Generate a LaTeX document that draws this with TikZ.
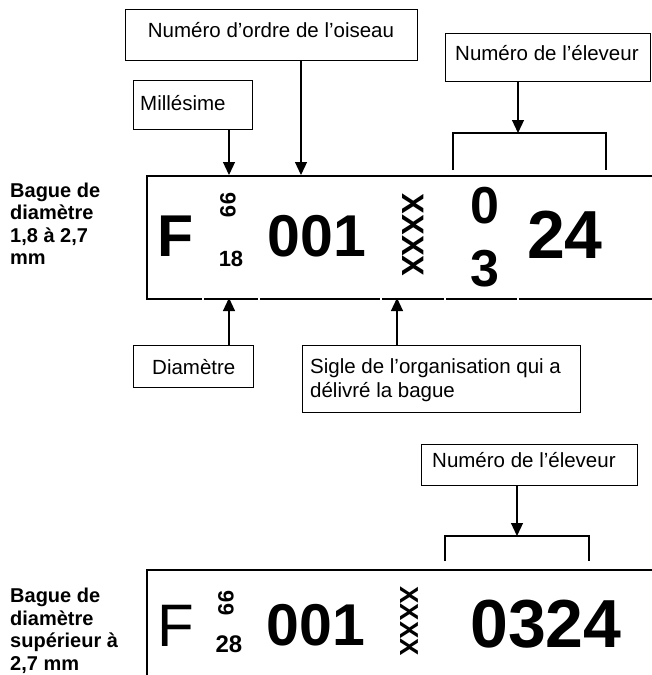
\documentclass[tikz,border=0pt]{standalone}
\usepackage{fontspec}
\setmainfont{Liberation Sans}
\usetikzlibrary{arrows.meta,calc}
\tikzset{
  lbox/.style={draw, line width=1.2pt, inner sep=0pt, anchor=north west},
  lbl/.style={inner sep=0pt, font=\fontsize{20.5}{24}\selectfont},
  side/.style={inner sep=0pt, align=left, anchor=north west, font=\fontsize{20}{22.5}\selectfont\bfseries},
  ringbox/.style={draw, line width=2pt, inner sep=0pt, anchor=north west},
  arr/.style={line width=1.2pt, -{Triangle[width=12pt,length=13pt]}},
  brk/.style={line width=1.2pt},
  bigb/.style={inner sep=0pt, font=\fontsize{#1}{#1}\selectfont\bfseries},
  bigr/.style={inner sep=0pt, font=\fontsize{#1}{#1}\selectfont},
}
\begin{document}
\begin{tikzpicture}[x=1pt,y=-1pt]
\useasboundingbox (0,0) rectangle (651,675);

% ---------- ring 1 ----------
\node[ringbox, minimum width=520pt, minimum height=123pt] (ring1) at (146,175) {};
\foreach \gx in {203,259,381,445,518}
  \fill[white] (\gx-0.8,296.5) rectangle (\gx+0.8,299.5);

\node[side] (lab1) at (10,182.5) {Bague de\\diamètre\\1,8 à 2,7\\mm};

\node[bigb=59] (F1) at (176,236) {F};
\node[bigb=22, rotate=-90] (y1) at (228,205) {99};
\node[bigb=22] (d1) at (231,259) {18};
\node[bigb=59] (n1) at (317,236) {001};
\node[bigb=31, rotate=-90] (x1) at (413,235) {XXXX};
\node[bigb=52] (e1a) at (485,206) {0};
\node[bigb=52] (e1b) at (485,269) {3};
\node[bigb=68] (e1c) at (565,235) {24};

% label boxes above ring 1
\node[lbox, minimum width=292pt, minimum height=51pt] (ordre) at (125,9) {};
\node[lbl, anchor=base] (ordreT) at (271,37) {Numéro d’ordre de l’oiseau};
\node[lbox, minimum width=119pt, minimum height=49pt] (mill) at (133,80) {};
\node[lbl, anchor=base west] (millT) at (140,110) {Millésime};
\node[lbox, minimum width=205pt, minimum height=48pt] (elev1) at (445,33) {};
\node[lbl, anchor=base west] (elev1T) at (455,60) {Numéro de l’éleveur};

% label boxes below ring 1
\node[lbox, minimum width=120pt, minimum height=42pt] (diam) at (133,345) {};
\node[lbl, anchor=base west] (diamT) at (152,374) {Diamètre};
\node[lbox, minimum width=278pt, minimum height=67pt] (sigle) at (302,345) {};
\node[lbl, anchor=north west, align=left, font=\fontsize{20.5}{24}\selectfont] (sigleT) at (310,358) {Sigle de l’organisation qui a\\délivré la bague};

% connection points on ring 1
\coordinate (tMill) at (229,175);
\coordinate (tOrdre) at (301,175);
\coordinate (tDiam) at (229,298);
\coordinate (tSigle) at (397,298);
\coordinate (b1a) at (453,170);
\coordinate (b1b) at (453,133);
\coordinate (b1m) at (518,133);
\coordinate (b1c) at (606,133);
\coordinate (b1d) at (606,170);

\draw[arr] (mill.south -| tMill) -- (tMill);
\draw[arr] (ordre.south -| tOrdre) -- (tOrdre);
\draw[arr] (diam.north -| tDiam) -- (tDiam);
\draw[arr] (sigle.north -| tSigle) -- (tSigle);
\draw[brk] (b1a) -- (b1b) -- (b1c) -- (b1d);
\draw[arr] (elev1.south -| b1m) -- (b1m);

% ---------- ring 2 ----------
\node[ringbox, minimum width=520pt, minimum height=130pt] (ring2) at (146,569) {};
\node[side] (lab2) at (10,588) {Bague de\\diamètre\\supérieur à\\2,7 mm};

\node[bigr=60] (F2) at (176,626) {F};
\node[bigb=22, rotate=-90] (y2) at (226,603) {99};
\node[bigb=24] (d2) at (229,644) {28};
\node[bigb=59] (n2) at (316,625) {001};
\node[bigb=26, rotate=-90] (x2) at (409,621) {XXXX};
\node[bigb=68] (e2) at (546,624) {0324};

\node[lbox, minimum width=216pt, minimum height=41pt] (elev2) at (421,444) {};
\node[lbl, anchor=base west] (elev2T) at (432,467) {Numéro de l’éleveur};

\coordinate (b2a) at (445,561);
\coordinate (b2b) at (445,536);
\coordinate (b2m) at (517,536);
\coordinate (b2c) at (589,536);
\coordinate (b2d) at (589,561);
\draw[brk] (b2a) -- (b2b) -- (b2c) -- (b2d);
\draw[arr] (elev2.south -| b2m) -- (b2m);
\end{tikzpicture}
\end{document}
